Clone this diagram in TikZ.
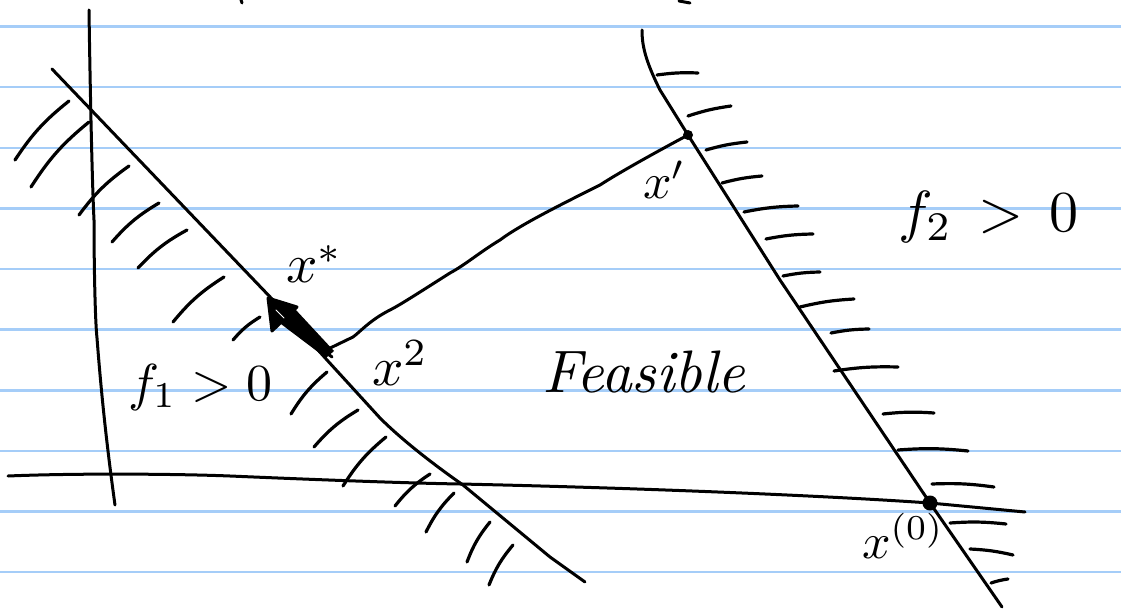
\documentclass[tikz,border=0pt]{standalone}
\usetikzlibrary{calc}
\definecolor{ruleblue}{RGB}{165,205,248}
\begin{document}
\begin{tikzpicture}[x=1pt,y=-1pt, line cap=round, line join=round,
  ink/.style={line width=3pt, black},
  hatch/.style={line width=3.2pt, black},
  rulestyle/.style={line width=2.4pt, ruleblue},
  lbl/.style={inner sep=0pt, outer sep=0pt}]
\useasboundingbox (0,0) rectangle (1121,609);
\fill[white] (0,0) rectangle (1121,609);
% ruled paper
\foreach \yy in {26.7,87.3,147.9,208.5,269.1,329.7,390.3,450.9,511.5,572.1}
  \draw[rulestyle] (0,\yy) -- (1121,\yy);
% fragments from the line above
\draw[ink] (241,0) -- (242,3);
\draw[ink] (679,1) -- (690,3);

% key points
\coordinate (x0) at (930,503);
\coordinate (x1) at (688,135);
\coordinate (x2) at (324,351);
\coordinate (xs) at (270,300);

% left near-vertical line
\draw[ink] (89,10) .. controls (90,80) and (92,180) .. (94,220)
  .. controls (94,260) and (95,320) .. (97,338)
  .. controls (101,390) and (106,440) .. (115,505);
% horizontal line
\draw[ink] (8,476) .. controls (80,473) and (180,474) .. (230,476)
  .. controls (300,479) and (400,483) .. (460,484)
  .. controls (600,487) and (800,494) .. (x0)
  -- (1025,512);
% f1 boundary
\draw[ink] (52,69) -- (273,300) -- (327,360) -- (380,418)
  .. controls (400,438) and (430,462) .. (463,485) -- (550,557) -- (585,582);
% f2 boundary
\draw[ink] (642,30) .. controls (642,45) and (645,60) .. (660,90)
  -- (x1) -- (780,280) -- (x0) -- (1002,607);

% path x1 -> x2
\draw[ink] (x1) .. controls (660,150) and (620,172) .. (600,185)
  .. controls (560,205) and (520,225) .. (500,240)
  .. controls (480,252) and (465,265) .. (450,273)
  .. controls (420,292) and (400,305) .. (390,310)
  .. controls (370,320) and (360,332) .. (353,337)
  -- (x2);
% step x2 -> x* (thick arrow)
\fill (274,303) -- (295,309) -- (334,351) -- (326,358) -- (273,318) -- cycle;
\draw[ink, fill=black] (268,298) -- (297,307) -- (272,331) -- cycle;
\draw[line width=1pt, white] (276,310) -- (284,318);
\draw[ink] (x2) -- (332,357);

% dots
\fill (x1) circle (5);
\draw[line width=2pt, fill=black] (x0) circle (6.5);

% left hatching
\foreach \ax/\ay/\bx/\by in {15/160/69/101, 31/187/89/122, 79/215/129/166, 112/242/159/203,
  138/268/187/230, 173/322/224/277, 233/340/260/317, 291/414/327/372,
  314/447/358/410, 343/486/386/437, 395/506/430/474, 426/532/454/493,
  467/562/490/522, 489/585/513/545}
  \draw[hatch] (\ax,\ay) to[bend left=9] (\bx,\by);
% right hatching
\foreach \ax/\ay/\bx/\by in {657/75/698/73, 688/116/731/106, 706/150/747/142,
  722/183/762/176, 744/212/798/206, 766/239/813/234, 783/276/820/272,
  800/307/854/299, 831/333/869/329, 834/371/898/367, 883/414/934/413,
  898/450/968/451, 932/484/994/487, 950/523/1006/524, 970/549/1013/555,
  991/583/1008/579}
  \draw[hatch] (\ax,\ay) to[bend left=5] (\bx,\by);

% labels
\node[lbl, scale=5.5, anchor=base west] (lxs) at (286,283) {$x^{*}$};
\node[lbl, scale=5.5, anchor=base west] (lx2) at (372,385) {$x^{2}$};
\node[lbl, scale=5, anchor=base west] (lx1) at (643,199) {$x'$};
\node[lbl, scale=5, anchor=base west] (lx0) at (862,558) {$x^{(0)}$};
\node[lbl, scale=6, anchor=base west] (lfeas) at (542,392) {\itshape Feasible};
\node[lbl, scale=5.8, anchor=base west] (lf2) at (898,232) {$f_2 \mathrel{\,>\,} 0$};
\node[lbl, scale=5.2, anchor=base west] (lf1) at (128,400) {$f_1 > 0$};
\end{tikzpicture}
\end{document}
